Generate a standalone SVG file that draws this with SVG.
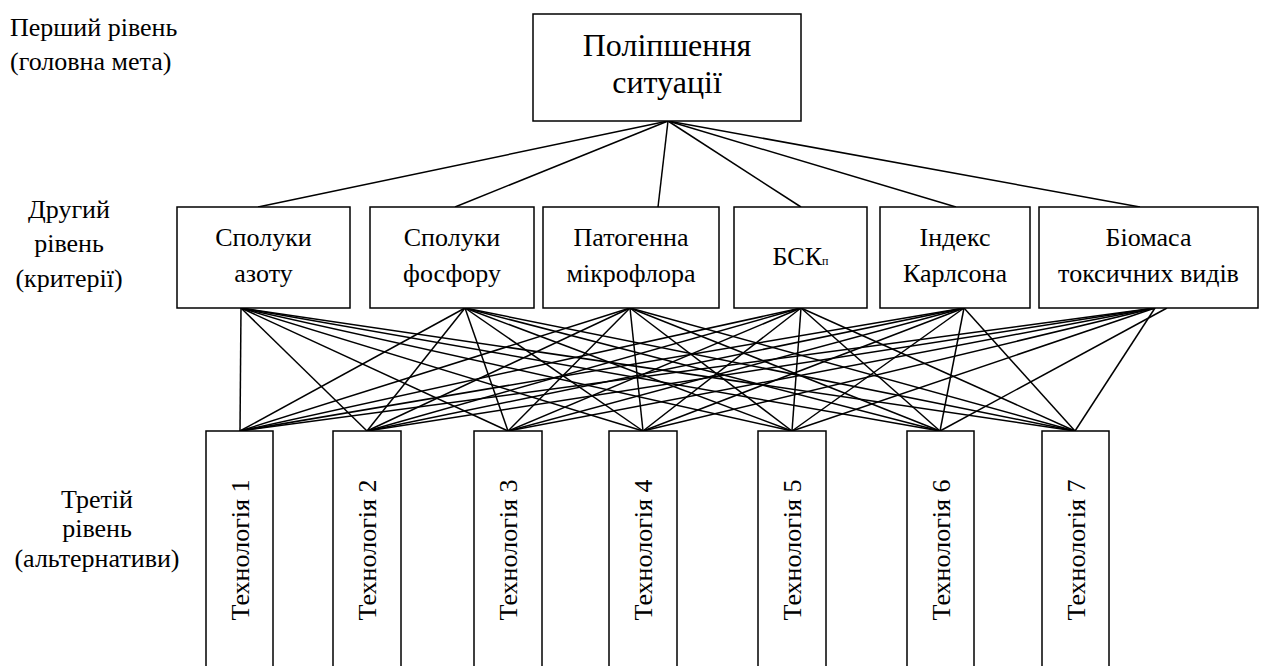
<svg xmlns="http://www.w3.org/2000/svg" width="1265" height="666" viewBox="0 0 1265 666">
<style>
  text { font-family: "Liberation Serif", "DejaVu Serif", "Times New Roman", serif; fill: #000; }
  .lbl { font-size: 26px; }
  .ctr { font-size: 26px; text-anchor: middle; }
  .big { font-size: 32px; text-anchor: middle; }
  .box { fill: #fff; stroke: #000; stroke-width: 1.5; }
  .con line { stroke: #000; stroke-width: 1.5; }
</style>
<rect width="1265" height="666" fill="#fff"/>

<g id="level-labels">
  <text class="lbl" x="10" y="36" font-family="Liberation Serif, serif">Перший рівень</text>
  <text class="lbl" x="10" y="70" font-family="Liberation Serif, serif">(головна мета)</text>
  <text class="ctr" x="69" y="218">Другий</text>
  <text class="ctr" x="69" y="252">рівень</text>
  <text class="ctr" x="69" y="287">(критерії)</text>
  <text class="ctr" x="97" y="508">Третій</text>
  <text class="ctr" x="97" y="537">рівень</text>
  <text class="ctr" x="97" y="567">(альтернативи)</text>
</g>

<g id="connectors" class="con">
  <line x1="668" y1="121" x2="258" y2="207"/>
  <line x1="668" y1="121" x2="455" y2="207"/>
  <line x1="668" y1="121" x2="658" y2="207"/>
  <line x1="668" y1="121" x2="801" y2="207"/>
  <line x1="668" y1="121" x2="956" y2="207"/>
  <line x1="668" y1="121" x2="1140" y2="207"/>

  <line x1="241" y1="308" x2="240" y2="431"/>
  <line x1="241" y1="308" x2="367" y2="431"/>
  <line x1="241" y1="308" x2="508" y2="431"/>
  <line x1="241" y1="308" x2="643" y2="431"/>
  <line x1="241" y1="308" x2="792" y2="431"/>
  <line x1="241" y1="308" x2="940" y2="431"/>
  <line x1="241" y1="308" x2="1075" y2="431"/>

  <line x1="465" y1="308" x2="240" y2="431"/>
  <line x1="465" y1="308" x2="367" y2="431"/>
  <line x1="465" y1="308" x2="508" y2="431"/>
  <line x1="465" y1="308" x2="643" y2="431"/>
  <line x1="465" y1="308" x2="792" y2="431"/>
  <line x1="465" y1="308" x2="940" y2="431"/>
  <line x1="465" y1="308" x2="1075" y2="431"/>

  <line x1="630" y1="308" x2="240" y2="431"/>
  <line x1="630" y1="308" x2="367" y2="431"/>
  <line x1="630" y1="308" x2="508" y2="431"/>
  <line x1="630" y1="308" x2="643" y2="431"/>
  <line x1="630" y1="308" x2="792" y2="431"/>
  <line x1="630" y1="308" x2="940" y2="431"/>
  <line x1="630" y1="308" x2="1075" y2="431"/>

  <line x1="801" y1="308" x2="240" y2="431"/>
  <line x1="801" y1="308" x2="367" y2="431"/>
  <line x1="801" y1="308" x2="508" y2="431"/>
  <line x1="801" y1="308" x2="643" y2="431"/>
  <line x1="801" y1="308" x2="792" y2="431"/>
  <line x1="801" y1="308" x2="940" y2="431"/>
  <line x1="801" y1="308" x2="1075" y2="431"/>

  <line x1="964" y1="308" x2="240" y2="431"/>
  <line x1="964" y1="308" x2="367" y2="431"/>
  <line x1="964" y1="308" x2="508" y2="431"/>
  <line x1="964" y1="308" x2="643" y2="431"/>
  <line x1="964" y1="308" x2="792" y2="431"/>
  <line x1="964" y1="308" x2="940" y2="431"/>
  <line x1="964" y1="308" x2="1075" y2="431"/>

  <line x1="1155" y1="308" x2="240" y2="431"/>
  <line x1="1155" y1="308" x2="367" y2="431"/>
  <line x1="1155" y1="308" x2="508" y2="431"/>
  <line x1="1155" y1="308" x2="643" y2="431"/>
  <line x1="1155" y1="308" x2="792" y2="431"/>
  <line x1="1167" y1="308" x2="940" y2="431"/>
  <line x1="1155" y1="308" x2="1075" y2="431"/>
</g>

<g id="goal">
  <rect class="box" x="533" y="14" width="268" height="107"/>
  <text class="big" x="667" y="56">Поліпшення</text>
  <text class="big" x="667" y="93">ситуації</text>
</g>

<g id="crit-1">
  <rect class="box" x="177" y="207" width="173" height="101"/>
  <text class="ctr" x="263.5" y="246">Сполуки</text>
  <text class="ctr" x="263.5" y="282">азоту</text>
</g>
<g id="crit-2">
  <rect class="box" x="370" y="207" width="164" height="101"/>
  <text class="ctr" x="452" y="246">Сполуки</text>
  <text class="ctr" x="452" y="282">фосфору</text>
</g>
<g id="crit-3">
  <rect class="box" x="543" y="207" width="176" height="101"/>
  <text class="ctr" x="631" y="246">Патогенна</text>
  <text class="ctr" x="631" y="282">мікрофлора</text>
</g>
<g id="crit-4">
  <rect class="box" x="734" y="207" width="133" height="101"/>
  <text class="ctr" x="800.5" y="265">БСК<tspan font-size="12">п</tspan></text>
</g>
<g id="crit-5">
  <rect class="box" x="880" y="207" width="150" height="101"/>
  <text class="ctr" x="955" y="246">Індекс</text>
  <text class="ctr" x="955" y="282">Карлсона</text>
</g>
<g id="crit-6">
  <rect class="box" x="1039" y="207" width="219" height="101"/>
  <text class="ctr" x="1148.5" y="246">Біомаса</text>
  <text class="ctr" x="1148.5" y="282">токсичних видів</text>
</g>

<g id="alt-1">
  <rect class="box" x="206" y="431" width="67" height="260"/>
  <text class="ctr" transform="translate(248.5,550) rotate(-90)">Технологія 1</text>
</g>
<g id="alt-2">
  <rect class="box" x="333" y="431" width="68" height="260"/>
  <text class="ctr" transform="translate(376,550) rotate(-90)">Технологія 2</text>
</g>
<g id="alt-3">
  <rect class="box" x="474" y="431" width="68" height="260"/>
  <text class="ctr" transform="translate(517,550) rotate(-90)">Технологія 3</text>
</g>
<g id="alt-4">
  <rect class="box" x="609" y="431" width="68" height="260"/>
  <text class="ctr" transform="translate(652,550) rotate(-90)">Технологія 4</text>
</g>
<g id="alt-5">
  <rect class="box" x="758" y="431" width="68" height="260"/>
  <text class="ctr" transform="translate(801,550) rotate(-90)">Технологія 5</text>
</g>
<g id="alt-6">
  <rect class="box" x="907" y="431" width="67" height="260"/>
  <text class="ctr" transform="translate(949.5,550) rotate(-90)">Технологія 6</text>
</g>
<g id="alt-7">
  <rect class="box" x="1042" y="431" width="67" height="260"/>
  <text class="ctr" transform="translate(1084.5,550) rotate(-90)">Технологія 7</text>
</g>
</svg>
